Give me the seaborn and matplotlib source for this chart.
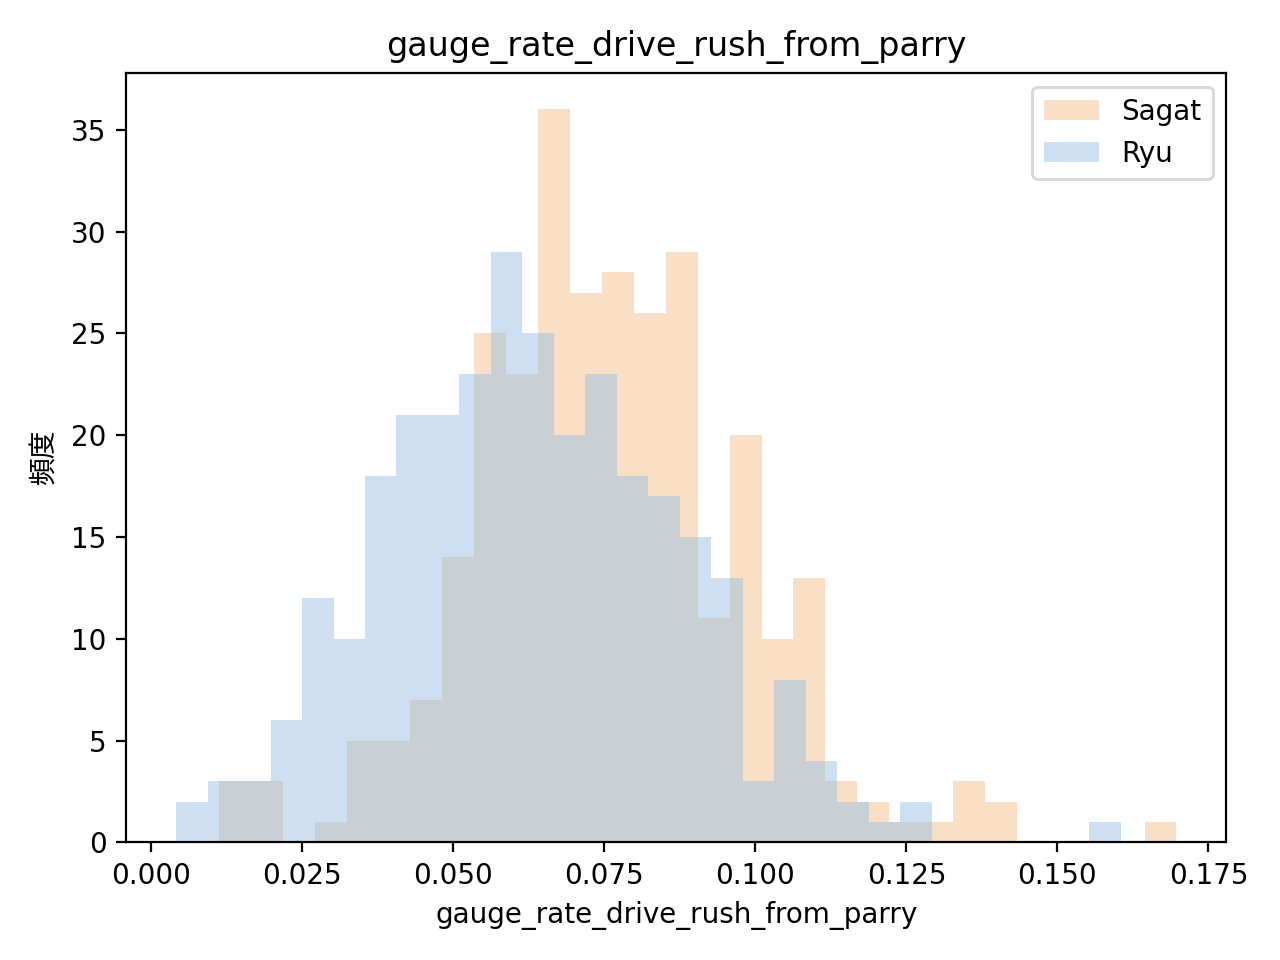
import numpy as np
import pandas as pd
import seaborn as sns
import matplotlib.pyplot as plt

# histogram counts (30 bins each)
sagat_range = (0.01123, 0.1697)
sagat_counts = [3, 3, 0, 1, 5, 5, 7, 14, 25, 23,
                36, 27, 28, 26, 29, 11, 20, 10, 13, 3,
                2, 1, 1, 3, 2, 0, 0, 0, 0, 1]
ryu_range = (0.00413, 0.16048)
ryu_counts = [2, 3, 3, 6, 12, 10, 18, 21, 21, 23,
              29, 25, 20, 23, 18, 17, 15, 13, 3, 8,
              4, 2, 1, 2, 0, 0, 0, 0, 0, 1]

metric = 'gauge_rate_drive_rush_from_parry'
ylabel = '頻度'

fig, ax = plt.subplots(figsize=(6.4, 4.8), dpi=200)

for name, rng, counts, color in [('Sagat', sagat_range, sagat_counts, '#F3C18D'),
                                 ('Ryu', ryu_range, ryu_counts, '#9DC1E3')]:
    nb = len(counts)
    width = (rng[1] - rng[0]) / nb
    df = pd.DataFrame({'x': [rng[0] + width * (i + 0.5) for i in range(nb)], 'n': counts})
    sns.histplot(data=df, x='x', weights='n', bins=nb, binrange=rng, color=color,
                 alpha=0.5, linewidth=0, label=name, ax=ax)

ax.set_title(metric)
ax.set_xlabel(metric)
ax.set_ylabel(ylabel, family=['Noto Sans CJK JP', 'DejaVu Sans'])
ax.legend(loc='upper right')
plt.tight_layout()
plt.savefig('out.png')
